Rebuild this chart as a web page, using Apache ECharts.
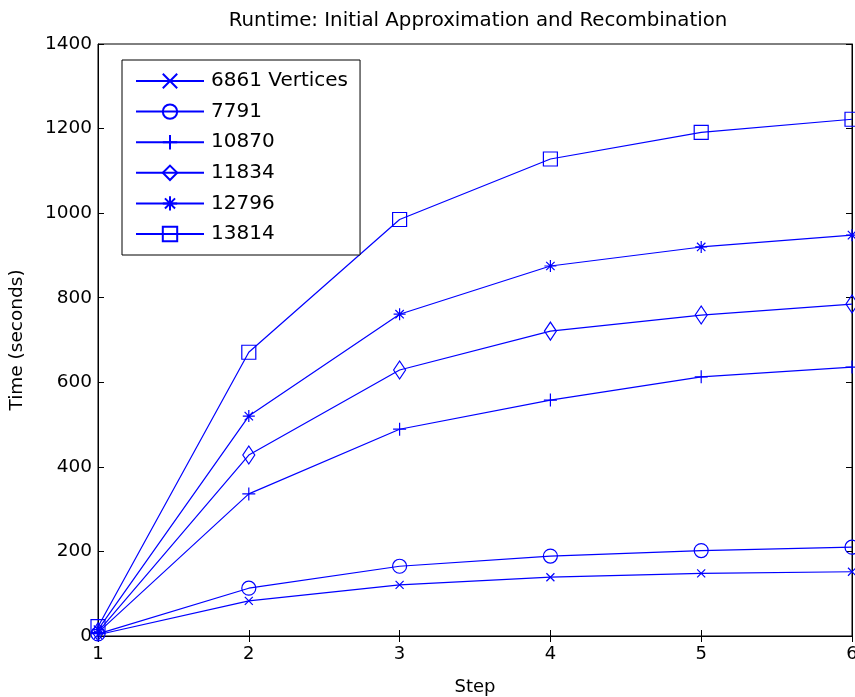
<!DOCTYPE html>
<html>
<head>
<meta charset="utf-8">
<script src="https://cdn.jsdelivr.net/npm/echarts@6/dist/echarts.min.js"></script>
<style>
  html, body { margin: 0; padding: 0; background: #fff; }
  #main { width: 855px; height: 697px; }
</style>
</head>
<body>
<div id="main"></div>
<script>
// values
var steps = [1, 2, 3, 4, 5, 6];
var seriesNames = ['6861 Vertices', '7791', '10870', '11834', '12796', '13814'];
var v6861 = [3, 83, 121, 139, 148, 152];
var v7791 = [5, 113, 165, 189, 202, 210];
var v10870 = [8, 336, 489, 558, 613, 636];
var v11834 = [10, 428, 629, 721, 759, 785];
var v12796 = [15, 520, 761, 875, 920, 948];
var v13814 = [22, 671, 985, 1128, 1191, 1222];
var yTicks = [0, 200, 400, 600, 800, 1000, 1200, 1400];

var blue = '#0000ff';
var font = 'DejaVu Sans';

var markers = [
  { symbol: 'path://M0,0L10,10M10,0L0,10', size: [8, 8] },
  { symbol: 'path://M5,0A5,5 0 1,1 4.99,0Z', size: [14, 14] },
  { symbol: 'path://M5,0L5,10M0,5L10,5', size: [13, 13] },
  { symbol: 'path://M5,0L10,5L5,10L0,5Z', size: [12, 18] },
  { symbol: 'path://M5,0L5,10M0,5L10,5M1.5,1.5L8.5,8.5M8.5,1.5L1.5,8.5', size: [12, 12] },
  { symbol: 'path://M0,0L10,0L10,10L0,10Z', size: [14, 14] }
];

var allValues = [v6861, v7791, v10870, v11834, v12796, v13814];

function makeSeries(i) {
  return {
    name: seriesNames[i],
    type: 'line',
    data: steps.map(function (s, k) { return [s, allValues[i][k]]; }),
    symbol: markers[i].symbol,
    symbolSize: markers[i].size,
    showAllSymbol: true,
    clip: false,
    lineStyle: { color: blue, width: 1.2 },
    itemStyle: { color: 'transparent', borderColor: blue, borderWidth: 1.2 },
    emphasis: { disabled: true },
    animation: false
  };
}

var chartDom = document.getElementById('main');
var myChart = echarts.init(chartDom);
var option;

option = {
  backgroundColor: '#fff',
  animation: false,
  title: {
    text: 'Runtime: Initial Approximation and Recombination',
    left: 473,
    textAlign: 'center',
    top: 6,
    textStyle: { fontFamily: font, fontSize: 19.8, fontWeight: 'normal', color: '#000' }
  },
  grid: {
    left: 98, right: 3, top: 44, bottom: 61,
    outerBoundsMode: 'none',
    containLabel: false,
    show: true, borderColor: '#000', borderWidth: 1, backgroundColor: '#fff'
  },
  legend: {
    orient: 'vertical',
    left: 122, top: 60,
    padding: [11, 12, 11, 13],
    itemWidth: 68, itemHeight: 18, itemGap: 10.6,
    backgroundColor: '#fff',
    borderColor: '#000', borderWidth: 1,
    textStyle: { fontFamily: font, fontSize: 20, color: '#000', padding: [0, 0, 0, 2] },
    data: seriesNames,
    selectedMode: false
  },
  xAxis: [
    {
      type: 'value', min: 1, max: 6, interval: 1,
      name: 'Step', nameLocation: 'middle', nameGap: 42,
      nameTextStyle: { fontFamily: font, fontSize: 18, color: '#000' },
      axisLine: { show: true, lineStyle: { color: '#000', width: 1 } },
      axisTick: { show: true, inside: true, length: 6, lineStyle: { color: '#000' } },
      axisLabel: { fontFamily: font, fontSize: 18, color: '#000', margin: 9 },
      splitLine: { show: false }
    },
    {
      type: 'value', min: 1, max: 6, interval: 1, position: 'top',
      axisLine: { show: true, lineStyle: { color: '#000' } },
      axisTick: { show: true, inside: true, length: 6, lineStyle: { color: '#000' } },
      axisLabel: { show: false },
      splitLine: { show: false }
    }
  ],
  yAxis: [
    {
      type: 'value', min: 0, max: 1400, interval: 200,
      name: 'Time (seconds)', nameLocation: 'middle', nameGap: 71,
      nameTextStyle: { fontFamily: font, fontSize: 18.5, color: '#000' },
      axisLine: { show: true, lineStyle: { color: '#000', width: 1 } },
      axisTick: { show: true, inside: true, length: 6, lineStyle: { color: '#000' } },
      axisLabel: {
        fontFamily: font, fontSize: 18.5, color: '#000', margin: 6,
        formatter: function (v) { return yTicks.indexOf(v) >= 0 ? String(v) : ''; }
      },
      splitLine: { show: false }
    },
    {
      type: 'value', min: 0, max: 1400, interval: 200, position: 'right',
      axisLine: { show: true, lineStyle: { color: '#000' } },
      axisTick: { show: true, inside: true, length: 6, lineStyle: { color: '#000' } },
      axisLabel: { show: false },
      splitLine: { show: false }
    }
  ],
  series: [0, 1, 2, 3, 4, 5].map(makeSeries)
};

option && myChart.setOption(option);
</script>
</body>
</html>
